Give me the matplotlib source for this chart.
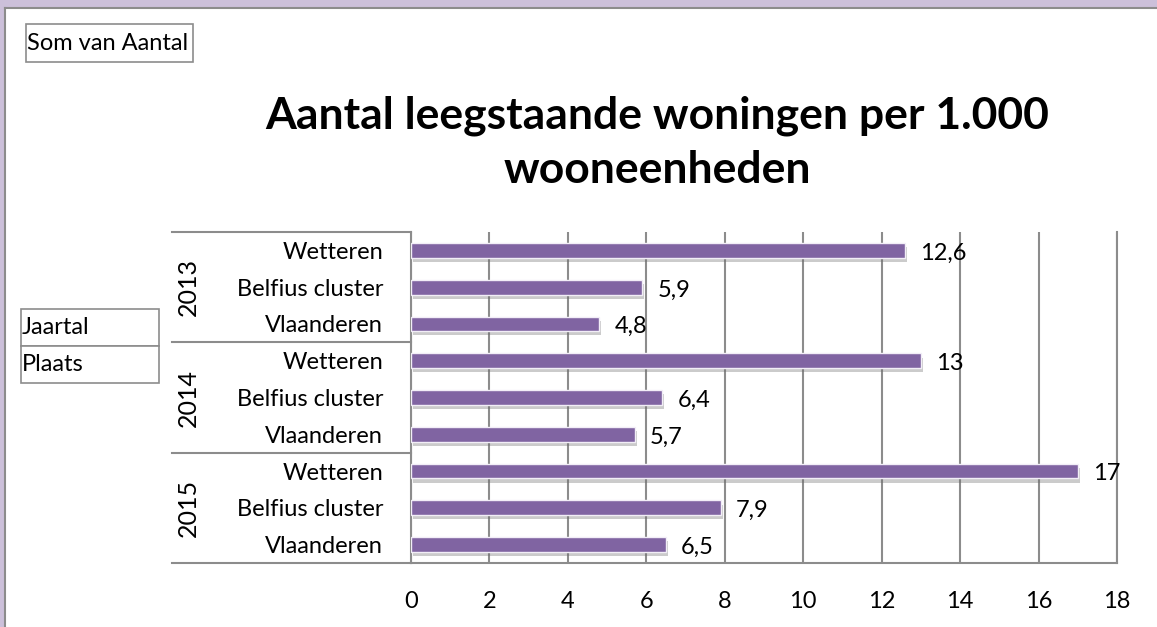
import numpy as np
import matplotlib
matplotlib.use("Agg")
import matplotlib.pyplot as plt
import matplotlib.patheffects as pe
from matplotlib.patches import Rectangle
from matplotlib.lines import Line2D
import matplotlib.transforms as mtransforms

plt.rcParams["font.family"] = ["Lato", "DejaVu Sans"]

years = ["2013", "2014", "2015"]
places = ["Wetteren", "Belfius cluster", "Vlaanderen"]
values_2013 = [12.6, 5.9, 4.8]
values_2014 = [13, 6.4, 5.7]
values_2015 = [17, 7.9, 6.5]
x_ticks = [0, 2, 4, 6, 8, 10, 12, 14, 16, 18]

title_line1 = "Aantal leegstaande woningen per 1.000"
title_line2 = "wooneenheden"

W, H = 1157, 627
fig = plt.figure(figsize=(W / 100, H / 100), dpi=100)
fig.patch.set_facecolor("white")

LBL = 17


def fx(x):
    return x / W


def fy(y):
    return 1 - y / H


# lavender strips + grey frame around the chart area
fig.patches.append(Rectangle((0, fy(8)), 1, 1 - fy(8), transform=fig.transFigure,
                             facecolor="#ccc0da", edgecolor="none", zorder=-5))
fig.patches.append(Rectangle((0, 0), fx(5), 1, transform=fig.transFigure,
                             facecolor="#ccc0da", edgecolor="none", zorder=-5))
fig.add_artist(Line2D([fx(5), fx(5)], [0, fy(8)], transform=fig.transFigure,
                      color="#8c8c8c", lw=1.5))
fig.add_artist(Line2D([fx(5), 1], [fy(8), fy(8)], transform=fig.transFigure,
                      color="#8c8c8c", lw=1.5))

ax = fig.add_axes([fx(411), fy(563), fx(1117) - fx(411), fy(232) - fy(563)])

values = values_2013 + values_2014 + values_2015
labels = places * len(years)
ypos = np.arange(len(values))

bars = ax.barh(ypos, values, height=0.4, color="#8064a2", edgecolor="#f2eef7",
               linewidth=1.0, zorder=3)
for b in bars:
    b.set_path_effects([pe.SimplePatchShadow(offset=(1.5, -3), shadow_rgbFace="#6a6a6a", alpha=0.35),
                        pe.Normal()])

for y, v in zip(ypos, values):
    txt = f"{v:g}".replace(".", ",")
    ax.annotate(txt, (v, y), xytext=(11, -2), textcoords="offset points",
                va="center", ha="left", fontsize=LBL, color="black", zorder=4)

ax.set_xlim(0, 18)
ax.set_ylim(len(values) - 0.5, -0.5)
ax.set_xticks(x_ticks)
ax.set_xticklabels([str(t) for t in x_ticks], fontsize=LBL)
ax.set_yticks(ypos)
ax.set_yticklabels(labels, fontsize=LBL)
ax.tick_params(axis="both", length=0)
ax.tick_params(axis="x", pad=20)
ax.tick_params(axis="y", pad=20)
ax.xaxis.grid(True, color="#8c8c8c", lw=1.5, zorder=1)
ax.set_axisbelow(True)
ax.spines["top"].set_visible(False)
for side in ["left", "bottom", "right"]:
    ax.spines[side].set_color("#8c8c8c")
    ax.spines[side].set_linewidth(1.5)

# multi-level category axis: group separators and year labels
blend = mtransforms.blended_transform_factory(ax.transAxes, ax.transData)
x_left = (172 - 411) / (1117 - 411)
for k in range(len(years) + 1):
    yb = k * len(places) - 0.5
    ax.add_line(Line2D([x_left, 0], [yb, yb], transform=blend, color="#8c8c8c",
                       lw=1.5, clip_on=False))
x_year = (188 - 411) / (1117 - 411)
for k, yr in enumerate(years):
    yc = k * len(places) + (len(places) - 1) / 2
    ax.text(x_year, yc, yr, transform=blend, rotation=90, ha="center", va="center",
            fontsize=18)

# title
fig.text(fx(657), fy(128), title_line1, ha="center", va="baseline", fontsize=32,
         fontweight="bold")
fig.text(fx(657), fy(183), title_line2, ha="center", va="baseline", fontsize=32,
         fontweight="bold")


# pivot field buttons
def field_box(x0, y0, x1, y1, text):
    fig.patches.append(Rectangle((fx(x0), fy(y1)), fx(x1) - fx(x0), fy(y0) - fy(y1),
                                 transform=fig.transFigure, facecolor="white",
                                 edgecolor="#8c8c8c", lw=1.2))
    fig.text(fx(x0 + 1), fy((y0 + y1) / 2), text, ha="left", va="center", fontsize=LBL)


field_box(26, 24, 193, 62, "Som van Aantal")
field_box(21, 309, 159, 346, "Jaartal")
field_box(21, 346, 159, 383, "Plaats")

fig.savefig("out.png", dpi=100, facecolor=fig.get_facecolor())
